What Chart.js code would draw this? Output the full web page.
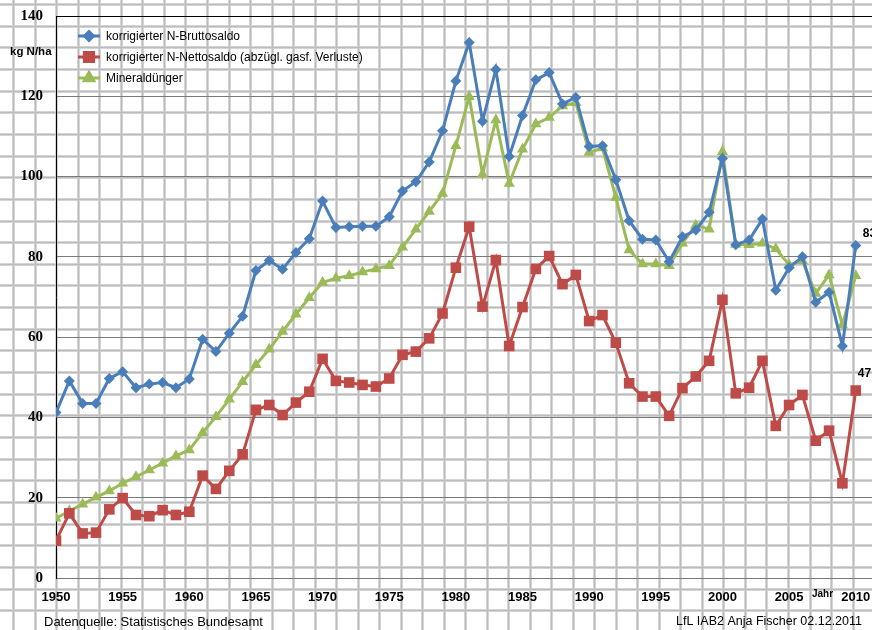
<!DOCTYPE html>
<html>
<head>
<meta charset="utf-8">
<script src="https://cdn.jsdelivr.net/npm/chart.js@4.4.0/dist/chart.umd.min.js"></script>
<style>
  html, body { margin: 0; padding: 0; background: #fff; overflow: hidden; }
</style>
</head>
<body>
<canvas id="saldoChart" width="872" height="630"></canvas>
<script>
// Jahre
const years = [
    1950, 1951, 1952, 1953, 1954, 1955, 1956, 1957, 1958, 1959,
    1960, 1961, 1962, 1963, 1964, 1965, 1966, 1967, 1968, 1969,
    1970, 1971, 1972, 1973, 1974, 1975, 1976, 1977, 1978, 1979,
    1980, 1981, 1982, 1983, 1984, 1985, 1986, 1987, 1988, 1989,
    1990, 1991, 1992, 1993, 1994, 1995, 1996, 1997, 1998, 1999,
    2000, 2001, 2002, 2003, 2004, 2005, 2006, 2007, 2008, 2009, 2010
];

// korrigierter N-Bruttosaldo (kg N/ha)
const bruttosaldo = [
    41.2, 49.1, 43.5, 43.5, 49.7, 51.4, 47.4, 48.3, 48.7, 47.4,
    49.6, 59.5, 56.4, 61.0, 65.2, 76.6, 79.1, 76.9, 81.1, 84.5,
    93.9, 87.3, 87.5, 87.6, 87.6, 90.0, 96.4, 98.7, 103.6, 111.4,
    123.8, 133.4, 113.8, 126.7, 105.0, 115.2, 124.1, 125.9, 118.1, 119.7,
    107.5, 107.7, 99.2, 89.0, 84.4, 84.2, 78.8, 85.0, 86.7, 91.1,
    104.5, 83.0, 84.2, 89.4, 71.7, 77.3, 80.0, 68.7, 71.2, 57.8, 82.8
];

// korrigierter N-Nettosaldo (abzügl. gasf. Verluste)
const nettosaldo = [
    9.3, 16.1, 11.1, 11.3, 17.1, 19.9, 15.7, 15.4, 16.9, 15.7,
    16.5, 25.5, 22.2, 26.7, 30.8, 41.9, 43.1, 40.6, 43.7, 46.4,
    54.6, 49.1, 48.7, 48.1, 47.7, 49.7, 55.6, 56.4, 59.7, 65.9,
    77.3, 87.5, 67.6, 79.2, 57.8, 67.5, 77.0, 80.2, 73.2, 75.5,
    64.0, 65.5, 58.6, 48.5, 45.2, 45.2, 40.4, 47.3, 50.2, 54.1,
    69.3, 46.0, 47.4, 54.1, 37.9, 43.1, 45.6, 34.2, 36.7, 23.6, 46.7
];

// Mineraldünger
const mineralduenger = [
    14.9, 16.7, 18.4, 20.1, 21.7, 23.6, 25.2, 26.9, 28.6, 30.4,
    31.9, 36.2, 40.2, 44.5, 48.9, 53.1, 57.0, 61.4, 65.7, 69.8,
    73.6, 74.7, 75.3, 76.2, 77.0, 77.8, 82.4, 86.9, 91.3, 95.8,
    107.7, 119.9, 100.6, 114.1, 98.3, 106.8, 113.1, 114.7, 117.6, 118.4,
    106.0, 107.1, 94.8, 81.7, 78.2, 78.2, 77.8, 83.4, 87.9, 86.9,
    106.2, 83.1, 83.0, 83.4, 82.0, 78.0, 79.0, 70.9, 75.5, 63.0, 75.3
];

const xTickYears = [1950, 1955, 1960, 1965, 1970, 1975, 1980, 1985, 1990, 1995, 2000, 2005, 2010];
const yTicks = [0, 20, 40, 60, 80, 100, 120, 140];

const toPoints = vals => vals.map((v, i) => ({ x: years[i], y: v }));

// Kästchenpapier im Hintergrund
const paperBackground = {
    id: 'paperBackground',
    beforeDraw(chart) {
        const { ctx, width, height } = chart;
        ctx.save();
        ctx.fillStyle = '#ffffff';
        ctx.fillRect(0, 0, width, height);
        const drawLines = (color, lw) => {
            ctx.strokeStyle = color;
            ctx.lineWidth = lw;
            ctx.beginPath();
            for (let x = 13.3; x < width; x += 21.52) {
                const px = Math.round(x) + 0.5;
                ctx.moveTo(px, 0); ctx.lineTo(px, height);
            }
            for (let y = 4; y < height; y += 21.65) {
                const py = Math.round(y) + 0.5;
                ctx.moveTo(0, py); ctx.lineTo(width, py);
            }
            ctx.stroke();
        };
        drawLines('#d4d4d4', 3);
        drawLines('#bcbcbc', 1);
        ctx.restore();
    }
};

// Legende mit Linie + Marker, Beschriftungen
const extras = {
    id: 'extras',
    afterDraw(chart) {
        const { ctx } = chart;
        ctx.save();
        // Legende
        chart.data.datasets.forEach((ds, i) => {
            const y = 36 + i * 21;
            ctx.strokeStyle = ds.borderColor;
            ctx.lineWidth = 3;
            ctx.beginPath();
            ctx.moveTo(78, y); ctx.lineTo(100, y);
            ctx.stroke();
            Chart.helpers.drawPoint(ctx, {
                pointStyle: ds.pointStyle,
                radius: ds.pointRadius - 1,
                rotation: 0,
                borderWidth: 1
            }, 89, y);
            ctx.fillStyle = ds.borderColor;
            ctx.fill();
            ctx.fillStyle = '#000';
            ctx.font = '12px "Liberation Sans", Arial, sans-serif';
            ctx.textAlign = 'left';
            ctx.textBaseline = 'middle';
            ctx.fillText(ds.label, 106, y + 1);
        });

        // Werte am letzten Punkt (Brutto- und Nettosaldo)
        ctx.font = 'bold 12px "Liberation Sans", Arial, sans-serif';
        ctx.fillStyle = '#000';
        ctx.textAlign = 'left';
        ctx.textBaseline = 'middle';
        const labelOffsets = [[7, -12], [2, -17]];
        labelOffsets.forEach((off, i) => {
            const meta = chart.getDatasetMeta(i);
            const last = meta.data.length - 1;
            const pt = meta.data[last];
            const val = chart.data.datasets[i].data[last].y;
            ctx.fillText(String(Math.round(val)), pt.x + off[0], pt.y + off[1]);
        });

        // Achsentitel
        ctx.font = 'bold 11.5px "Liberation Sans", Arial, sans-serif';
        ctx.fillText('kg N/ha', 10, 52);
        ctx.font = 'bold 10px "Liberation Sans", Arial, sans-serif';
        ctx.fillText('Jahr', 812, 594);

        // Fußzeile
        ctx.font = '13px "Liberation Sans", Arial, sans-serif';
        ctx.fillText('Datenquelle: Statistisches Bundesamt', 44, 622);
        ctx.font = '12.5px "Liberation Sans", Arial, sans-serif';
        ctx.textAlign = 'right';
        ctx.fillText('LfL IAB2 Anja Fischer 02.12.2011', 862, 622);
        ctx.restore();
    }
};

const ctx = document.getElementById('saldoChart').getContext('2d');

new Chart(ctx, {
    type: 'line',
    data: {
        datasets: [
            {
                label: 'korrigierter N-Bruttosaldo',
                data: toPoints(bruttosaldo),
                borderColor: '#4A7EBB',
                backgroundColor: '#4A7EBB',
                borderWidth: 3,
                pointStyle: 'rectRot',
                pointRadius: 5.5,
                pointBorderWidth: 0
            },
            {
                label: 'korrigierter N-Nettosaldo (abzügl. gasf. Verluste)',
                data: toPoints(nettosaldo),
                borderColor: '#BE4B48',
                backgroundColor: '#BE4B48',
                borderWidth: 3,
                pointStyle: 'rect',
                pointRadius: 7.5,
                pointBorderWidth: 0
            },
            {
                label: 'Mineraldünger',
                data: toPoints(mineralduenger),
                borderColor: '#9BBB59',
                backgroundColor: '#9BBB59',
                borderWidth: 3,
                pointStyle: 'triangle',
                pointRadius: 6.5,
                pointBorderWidth: 0
            }
        ]
    },
    options: {
        responsive: false,
        animation: false,
        devicePixelRatio: 1,
        layout: {
            autoPadding: false,
            padding: { top: 16, left: 0, right: 0, bottom: 0 }
        },
        plugins: {
            legend: { display: false },
            tooltip: { enabled: false }
        },
        scales: {
            x: {
                type: 'linear',
                min: 1950,
                max: 2011.22,
                afterBuildTicks: scale => {
                    scale.ticks = xTickYears.map(v => ({ value: v }));
                },
                afterFit: scale => {
                    scale.height = 52;
                    scale.paddingLeft = 0;
                    scale.paddingRight = 0;
                },
                ticks: {
                    color: '#000',
                    padding: 12,
                    maxRotation: 0,
                    font: { family: '"Liberation Sans", Arial, sans-serif', size: 13, weight: 'bold' },
                    callback: v => String(v)
                },
                grid: { display: false, drawTicks: false },
                border: { color: '#7a7a7a', width: 1 }
            },
            y: {
                min: 0,
                max: 140,
                afterBuildTicks: scale => {
                    scale.ticks = yTicks.map(v => ({ value: v }));
                },
                afterFit: scale => {
                    scale.width = 56;
                    scale.paddingTop = 0;
                    scale.paddingBottom = 0;
                },
                ticks: {
                    color: '#000',
                    padding: 13,
                    font: { family: '"Liberation Serif", "Times New Roman", serif', size: 15, weight: 'bold' }
                },
                grid: {
                    drawTicks: false,
                    color: c => c.tick && c.tick.value === 140 ? '#000000' : '#7a7a7a',
                    lineWidth: 1
                },
                border: { color: '#000', width: 1 }
            }
        }
    },
    plugins: [paperBackground, extras]
});
</script>
</body>
</html>
